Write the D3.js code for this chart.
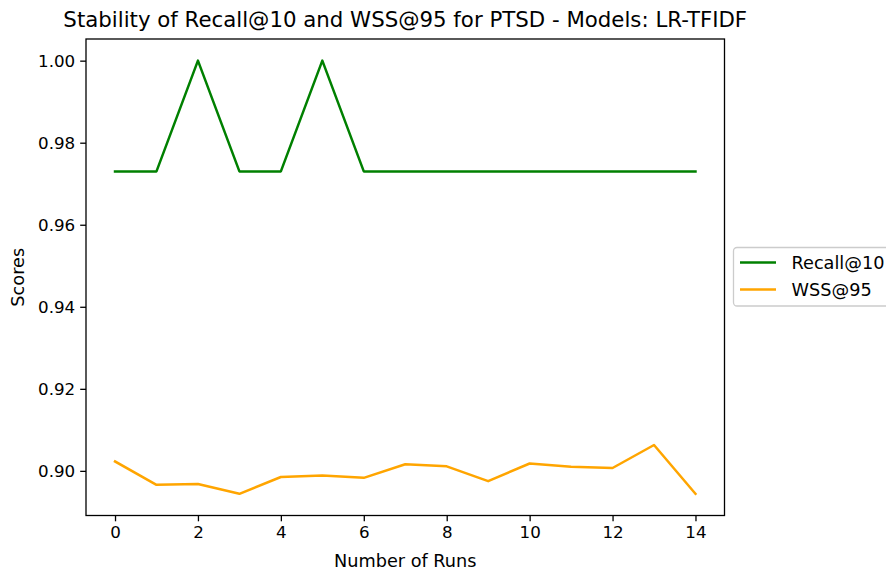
<!DOCTYPE html>
<html>
<head>
<meta charset="utf-8">
<script src="https://cdn.jsdelivr.net/npm/d3@7"></script>
<style>
  html, body { margin: 0; padding: 0; background: #fff; }
  svg { display: block; font-family: "DejaVu Sans", sans-serif; }
</style>
</head>
<body>
<svg id="chart" width="886" height="572"></svg>
<script>
// Per-run scores for the LR-TFIDF model on PTSD
const runs = d3.range(15);
const recallAt10 = [0.973, 0.973, 1.0, 0.973, 0.973, 1.0, 0.973, 0.973, 0.973, 0.973, 0.973, 0.973, 0.973, 0.973, 0.973];
const wssAt95 = [0.9023, 0.8966, 0.8968, 0.8944, 0.8985, 0.8989, 0.8983, 0.9016, 0.9011, 0.8975, 0.9018, 0.9010, 0.9007, 0.9063, 0.8944];
const xTicks = [0, 2, 4, 6, 8, 10, 12, 14];
const yTicks = [0.90, 0.92, 0.94, 0.96, 0.98, 1.00];
const seriesNames = ["Recall@10", "WSS@95"];
const seriesColors = ["green", "orange"];

const svg = d3.select("#chart");
const plot = { left: 86, right: 724.5, top: 39, bottom: 515.5 };

// axis limits padded by 5% of the data range
const allVals = recallAt10.concat(wssAt95);
const yMin = d3.min(allVals), yMax = d3.max(allVals);
const yPad = (yMax - yMin) * 0.05;
const xPad = (runs.length - 1) * 0.05;

const x = d3.scaleLinear().domain([-xPad, runs.length - 1 + xPad]).range([plot.left, plot.right]);
const y = d3.scaleLinear().domain([yMin - yPad, yMax + yPad]).range([plot.bottom, plot.top]);

const tickFont = 16.7;
const labelFont = 17.7;
const titleFont = 21.3;

// x axis
const xAxis = svg.append("g")
  .attr("transform", `translate(0,${plot.bottom})`)
  .call(d3.axisBottom(x).tickValues(xTicks).tickSize(5.8).tickPadding(5).tickFormat(d3.format("d")));
// y axis
const yAxis = svg.append("g")
  .attr("transform", `translate(${plot.left},0)`)
  .call(d3.axisLeft(y).tickValues(yTicks).tickSize(5.8).tickPadding(5).tickFormat(d3.format(".2f")));

[xAxis, yAxis].forEach(g => {
  g.select(".domain").remove();
  g.selectAll(".tick line").attr("stroke", "#000").attr("stroke-width", 1.3);
  g.selectAll(".tick text")
    .attr("fill", "#000")
    .style("font-size", tickFont + "px")
    .style("font-family", "DejaVu Sans, sans-serif");
});

// series lines
const line = d3.line().x((d, i) => x(runs[i])).y(d => y(d));
[recallAt10, wssAt95].forEach((vals, k) => {
  svg.append("path")
    .datum(vals)
    .attr("fill", "none")
    .attr("stroke", seriesColors[k])
    .attr("stroke-width", 2.5)
    .attr("stroke-linejoin", "round")
    .attr("stroke-linecap", "square")
    .attr("d", line);
});

// plot frame
svg.append("rect")
  .attr("x", plot.left).attr("y", plot.top)
  .attr("width", plot.right - plot.left).attr("height", plot.bottom - plot.top)
  .attr("fill", "none").attr("stroke", "#000").attr("stroke-width", 1.3);

// title and axis labels
svg.append("text")
  .attr("x", (plot.left + plot.right) / 2).attr("y", 27)
  .attr("text-anchor", "middle")
  .style("font-size", titleFont + "px")
  .text("Stability of Recall@10 and WSS@95 for PTSD - Models: LR-TFIDF");

svg.append("text")
  .attr("x", (plot.left + plot.right) / 2).attr("y", 566.5)
  .attr("text-anchor", "middle")
  .style("font-size", labelFont + "px")
  .text("Number of Runs");

svg.append("text")
  .attr("transform", `translate(23.5,${(plot.top + plot.bottom) / 2}) rotate(-90)`)
  .attr("text-anchor", "middle")
  .style("font-size", labelFont + "px")
  .text("Scores");

// legend outside the plot on the right
const legend = svg.append("g").attr("transform", "translate(733.5,247.5)");
legend.append("rect")
  .attr("width", 170).attr("height", 58.5)
  .attr("rx", 3.5).attr("ry", 3.5)
  .attr("fill", "#fff").attr("fill-opacity", 0.8)
  .attr("stroke", "#cccccc").attr("stroke-width", 1.3);
seriesNames.forEach((name, k) => {
  const ly = 15 + k * 27;
  legend.append("line")
    .attr("x1", 6.5).attr("x2", 42.5).attr("y1", ly).attr("y2", ly)
    .attr("stroke", seriesColors[k]).attr("stroke-width", 2.5);
  legend.append("text")
    .attr("x", 58).attr("y", ly + 6)
    .style("font-size", labelFont + "px")
    .text(name);
});
</script>
</body>
</html>
